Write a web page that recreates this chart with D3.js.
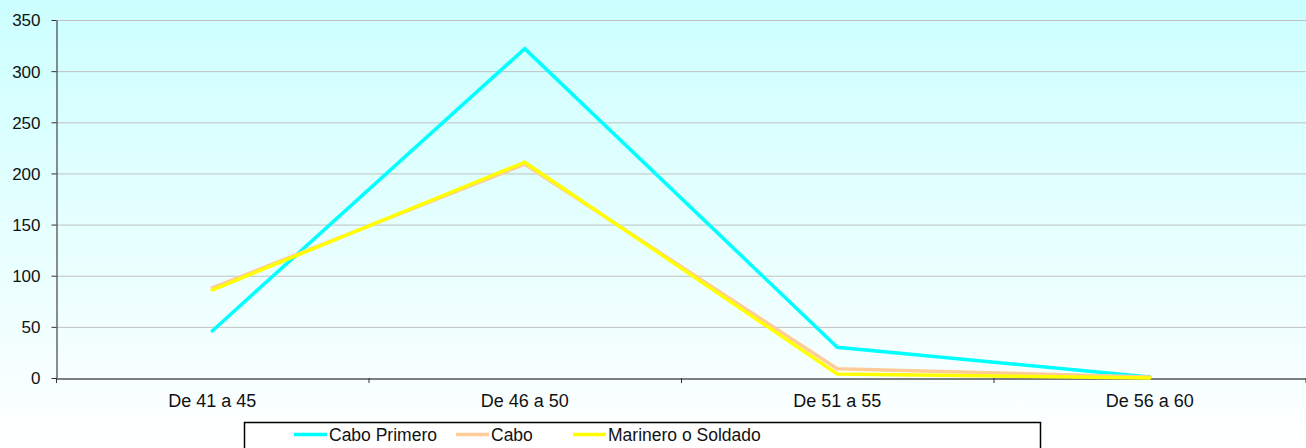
<!DOCTYPE html>
<html><head><meta charset="utf-8">
<script src="https://cdn.jsdelivr.net/npm/d3@7"></script>
<style>html,body{margin:0;padding:0;background:#fff;}svg{display:block;font-family:"Liberation Sans",Arial,sans-serif;}</style>
</head><body>
<svg id="c" width="1306" height="448"></svg>
<script>
const categories = ["De 41 a 45","De 46 a 50","De 51 a 55","De 56 a 60"];
const seriesNames = ["Cabo Primero","Cabo","Marinero o Soldado"];
const caboPrimero = [46, 322, 30, 1];
const cabo = [88, 209, 9, 1];
const marinero = [86, 211, 4, 0];
const yTicks = [0,50,100,150,200,250,300,350];
const colors = ["#00FFFF","#FFCC99","#FFFF00"];

const series = [caboPrimero, cabo, marinero];
const svg = d3.select("#c");
const W = 1306, H = 448;
const m = {left:56, right:0, top:20};
const x0 = m.left, x1 = W - m.right, yTop = m.top, yBot = 378;
const FONT = "Liberation Sans, Arial, sans-serif";

const defs = svg.append("defs");
const g = defs.append("linearGradient").attr("id","bg").attr("x1",0).attr("y1",0).attr("x2",0).attr("y2",1);
g.append("stop").attr("offset","0%").attr("stop-color","#ccffff");
g.append("stop").attr("offset","100%").attr("stop-color","#ffffff");
svg.append("rect").attr("width",W).attr("height",H).attr("fill","url(#bg)");

const x = d3.scaleBand().domain(categories).range([x0,x1]).padding(0);
const y = d3.scaleLinear().domain([0,350]).range([yBot,yTop]);

// gridlines
svg.append("g").selectAll("line").data(yTicks.filter(d=>d>0)).join("line")
  .attr("x1",x0).attr("x2",x1).attr("y1",d=>y(d)+0.5).attr("y2",d=>y(d)+0.5)
  .attr("stroke","#c0c0c0").attr("stroke-width",1);

// y axis
const ya = svg.append("g").attr("transform",`translate(${x0+0.5},0)`)
  .call(d3.axisLeft(y).tickValues(yTicks).tickSize(5).tickPadding(11).tickSizeOuter(0));
ya.attr("font-size",null).attr("font-family",null);
ya.select(".domain").attr("stroke","#666").attr("stroke-width",1.5);
ya.selectAll(".tick line").attr("stroke","#333");
ya.selectAll("text").style("font-size","17px").attr("fill","#111").style("font-family",FONT).attr("dy","0.35em");

// x axis
const xa = svg.append("g").attr("transform",`translate(0,${yBot+0.5})`)
  .call(d3.axisBottom(x).tickSize(0).tickPadding(16));
xa.attr("font-size",null).attr("font-family",null);
xa.select(".domain").attr("stroke","#555").attr("stroke-width",1.5);
xa.selectAll("text").style("font-size","18px").attr("fill","#111").style("font-family",FONT);
// category boundary ticks
const bounds = categories.map(c=>x(c)).concat([x1-0.5]);
svg.append("g").selectAll("line").data(bounds).join("line")
  .attr("x1",d=>d+0.5).attr("x2",d=>d+0.5).attr("y1",yBot).attr("y2",yBot+5)
  .attr("stroke","#333").attr("stroke-width",1);

// lines
const line = d3.line().x((d,i)=>x(categories[i])+x.bandwidth()/2).y(d=>y(d));
series.forEach((s,k)=>{
  svg.append("path").datum(s).attr("d",line).attr("fill","none")
    .attr("stroke",colors[k]).attr("stroke-width",3.5).attr("stroke-linejoin","miter").attr("stroke-linecap","round");
});

// legend
const lg = svg.append("g");
lg.append("rect").attr("x",244.5).attr("y",422.5).attr("width",796).attr("height",40)
  .attr("fill","#fff").attr("stroke","#000").attr("stroke-width",1.5);
const lx = [294, 456, 573];
seriesNames.forEach((n,k)=>{
  lg.append("line").attr("x1",lx[k]).attr("x2",lx[k]+33).attr("y1",434.5).attr("y2",434.5)
    .attr("stroke",colors[k]).attr("stroke-width",3.5);
  lg.append("text").attr("x",lx[k]+35).attr("y",441).style("font-size","17.5px").style("font-family",FONT).attr("fill","#111").text(n);
});
</script>
</body></html>
